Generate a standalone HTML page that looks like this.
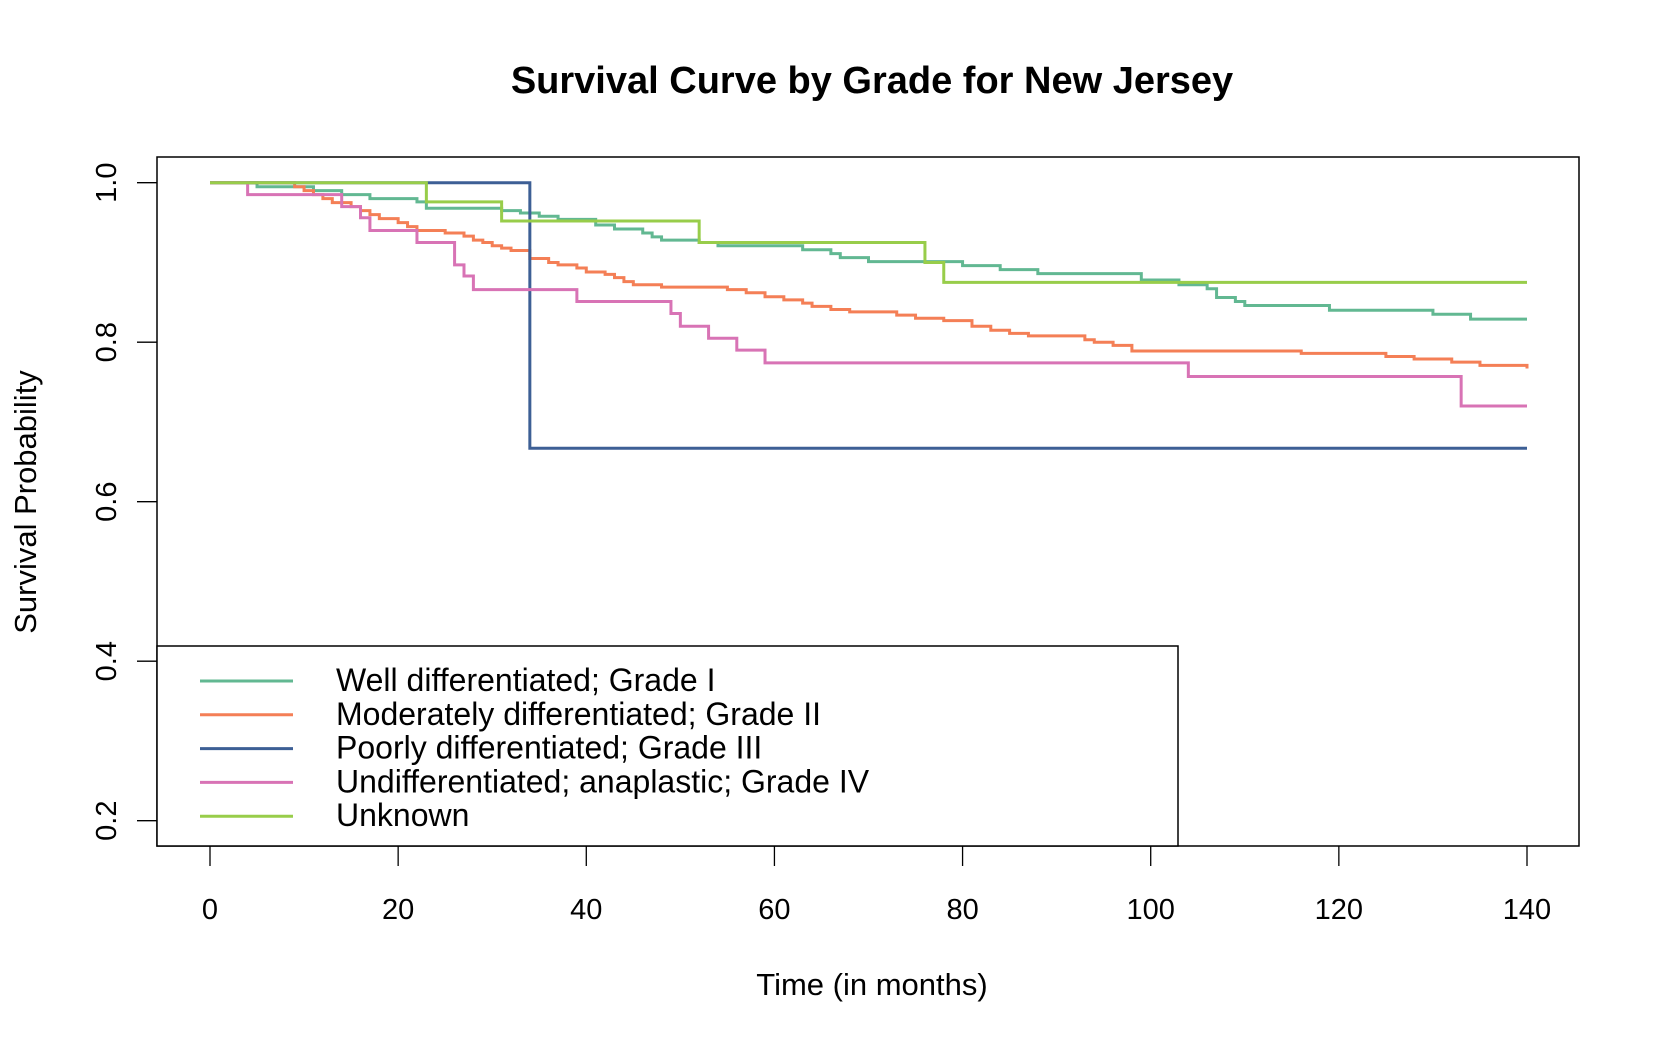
<!DOCTYPE html>
<html><head><meta charset="utf-8"><style>
html,body{margin:0;padding:0;background:#fff;}
svg{display:block;font-family:"Liberation Sans",Arial,sans-serif;}
</style></head><body>
<svg id="chart" width="1660" height="1040" viewBox="0 0 1660 1040">
<text x="872" y="93" text-anchor="middle" font-size="38" font-weight="bold">Survival Curve by Grade for New Jersey</text>
<rect x="157" y="157" width="1422" height="689" fill="none" stroke="#000" stroke-width="1.5"/>
<g id="xaxis"></g>
<g id="yaxis"></g>
<g id="series"></g>
<text x="872" y="995" text-anchor="middle" font-size="31">Time (in months)</text>
<text transform="translate(36,502) rotate(-90)" text-anchor="middle" font-size="31">Survival Probability</text>
<g id="legend">
<rect x="157" y="646" width="1021" height="200" fill="#fff" stroke="#000" stroke-width="1.5"/>
</g>
</svg>
<script>
const xTicks=[0,20,40,60,80,100,120,140];
const yTicks=[0.2,0.4,0.6,0.8,1.0];
const seriesNames=["Well differentiated; Grade I","Moderately differentiated; Grade II","Poorly differentiated; Grade III","Undifferentiated; anaplastic; Grade IV","Unknown"];
const seriesColors=["#62b892","#f47f56","#3d5f95","#d873b5","#98cd4a"];
const wellT=[0,5,11,14,17,22,23,31,33,35,37,41,43,46,47,48,52,54,63,66,67,70,80,84,88,99,103,106,107,109,110,119,130,134,140];
const wellS=[1,0.995,0.99,0.985,0.98,0.976,0.968,0.965,0.962,0.958,0.954,0.947,0.942,0.937,0.932,0.928,0.925,0.921,0.916,0.911,0.906,0.901,0.896,0.891,0.886,0.878,0.872,0.867,0.856,0.851,0.846,0.840,0.835,0.829,0.829];
const modT=[0,9,10,11,12,13,15,16,17,18,20,21,22,25,27,28,29,30,31,32,34,36,37,39,40,42,43,44,45,48,55,57,59,61,63,64,66,68,73,75,78,81,83,85,87,93,94,96,98,116,125,128,132,135,140];
const modS=[1,0.995,0.99,0.985,0.98,0.975,0.97,0.965,0.96,0.955,0.95,0.945,0.94,0.937,0.933,0.928,0.925,0.921,0.918,0.915,0.905,0.9,0.897,0.893,0.888,0.885,0.881,0.876,0.872,0.869,0.866,0.862,0.857,0.853,0.849,0.845,0.841,0.838,0.834,0.83,0.827,0.82,0.815,0.811,0.808,0.803,0.8,0.796,0.789,0.786,0.782,0.779,0.775,0.771,0.767];
const poorT=[0,34,140];
const poorS=[1,0.667,0.667];
const undT=[0,4,14,16,17,22,26,27,28,39,49,50,53,56,59,104,133,140];
const undS=[1,0.985,0.97,0.956,0.94,0.925,0.897,0.883,0.866,0.851,0.836,0.82,0.805,0.79,0.774,0.757,0.72,0.72];
const unkT=[0,23,31,52,76,78,140];
const unkS=[1,0.976,0.952,0.925,0.9,0.875,0.875];
const allT=[wellT,modT,poorT,undT,unkT];
const allS=[wellS,modS,poorS,undS,unkS];

const NS="http://www.w3.org/2000/svg";
function xs(t){return 210+t*(1527-210)/140;}
function ys(v){return 182.7+(1-v)*797.5;}
function mk(tag,attrs,parent){const e=document.createElementNS(NS,tag);for(const k in attrs)e.setAttribute(k,attrs[k]);parent.appendChild(e);return e;}
const xa=document.getElementById('xaxis');
xTicks.forEach(t=>{
 const l=mk('line',{x1:xs(t),x2:xs(t),y1:846,y2:866,stroke:'#000','stroke-width':1.3},xa);
 
 
 const tx=mk('text',{x:xs(t),y:919,'text-anchor':'middle','font-size':29},xa);
 tx.textContent=t;
 
 
});
const ya=document.getElementById('yaxis');
yTicks.forEach(v=>{
 const l=mk('line',{x1:137,x2:157,y1:ys(v),y2:ys(v),stroke:'#000','stroke-width':1.3},ya);
 
 
 const tx=mk('text',{transform:`translate(116,${ys(v)}) rotate(-90)`,'text-anchor':'middle','font-size':29},ya);
 tx.textContent=v.toFixed(1);
 
 
});
const sg=document.getElementById('series');
allT.forEach((T,i)=>{
 const S=allS[i];
 let d=`M${xs(T[0])},${ys(S[0])}`;
 for(let k=1;k<T.length;k++){d+=` H${xs(T[k])} V${ys(S[k])}`;}
 const p=mk('path',{d:d,fill:'none',stroke:seriesColors[i],'stroke-width':3},sg);
 
 
});
const lg=document.getElementById('legend');
seriesNames.forEach((n,i)=>{
 const y=681+i*33.8;
 const l=mk('line',{x1:200,x2:293,y1:y,y2:y,stroke:seriesColors[i],'stroke-width':3},lg);
 
 
 const tx=mk('text',{x:336,y:y+10,'font-size':32},lg);
 tx.textContent=n;
 
 
});
</script>
</body></html>
